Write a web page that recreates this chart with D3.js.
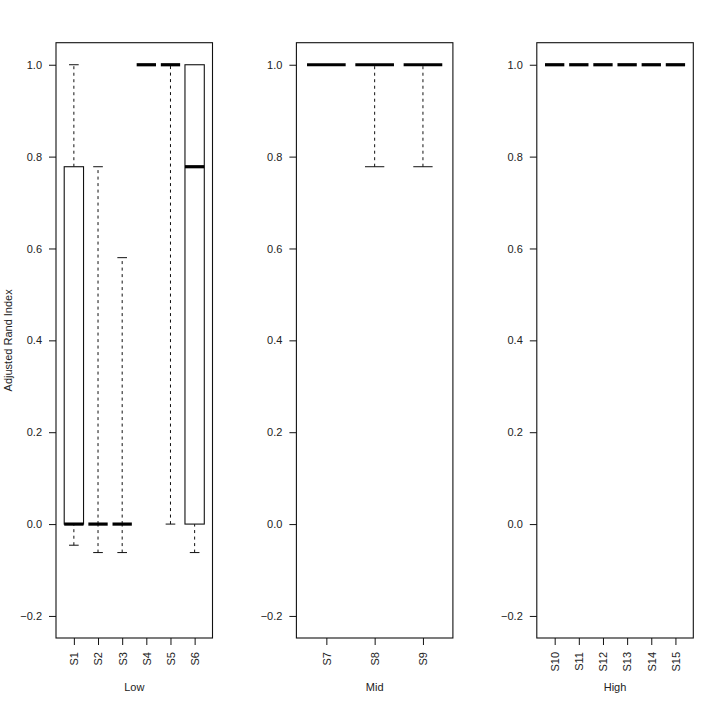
<!DOCTYPE html>
<html>
<head>
<meta charset="utf-8">
<script src="https://cdn.jsdelivr.net/npm/d3@7"></script>
<style>
	body { margin: 0; background: #fff; }
	svg { display: block; }
	text { font-family: "Liberation Sans", Arial, Helvetica, sans-serif; font-size: 11px; fill: #222; }
</style>
</head>
<body>
<script>
// groups and their sample names
var groupNames = [ 'Low', 'Mid', 'High' ];
var lowNames = [ 'S1', 'S2', 'S3', 'S4', 'S5', 'S6' ];
var midNames = [ 'S7', 'S8', 'S9' ];
var highNames = [ 'S10', 'S11', 'S12', 'S13', 'S14', 'S15' ];

// box stats: lower whisker, Q1, median, Q3, upper whisker
var lowStats = [
	[ -0.046, 0, 0, 0.778, 1 ],
	[ -0.062, 0, 0, 0, 0.778 ],
	[ -0.062, 0, 0, 0, 0.58 ],
	[ 1, 1, 1, 1, 1 ],
	[ 0, 1, 1, 1, 1 ],
	[ -0.062, 0, 0.778, 1, 1 ]
];
var midStats = [
	[ 1, 1, 1, 1, 1 ],
	[ 0.778, 1, 1, 1, 1 ],
	[ 0.778, 1, 1, 1, 1 ]
];
var highStats = [
	[ 1, 1, 1, 1, 1 ],
	[ 1, 1, 1, 1, 1 ],
	[ 1, 1, 1, 1, 1 ],
	[ 1, 1, 1, 1, 1 ],
	[ 1, 1, 1, 1, 1 ],
	[ 1, 1, 1, 1, 1 ]
];

var yTicks = [ -0.2, 0, 0.2, 0.4, 0.6, 0.8, 1.0 ];
var yLabel = 'Adjusted Rand Index';

var panels = [
	{ title: groupNames[0], names: lowNames, stats: lowStats },
	{ title: groupNames[1], names: midNames, stats: midStats },
	{ title: groupNames[2], names: highNames, stats: highStats }
];

var width = 709;
var height = 703;

var frame = {
	left: 56,
	step: 240.4,
	width: 156.5,
	top: 42.7,
	bottom: 638
};

var ink = '#111';

var svg = d3.select( 'body' ).append( 'svg' )
	.attr( 'width', width )
	.attr( 'height', height );

// R-style ylim(-0.2, 1) padded by 4%
var yPad = 1.2 * 0.04;
var yScale = d3.scaleLinear()
	.domain( [ -0.2 - yPad, 1 + yPad ] )
	.range( [ frame.bottom, frame.top ] );

panels.forEach( function ( panel, pi ) {

	var n = panel.names.length;
	var x0 = frame.left + pi * frame.step;
	var xPad = n * 0.04;

	var xScale = d3.scaleLinear()
		.domain( [ 0.5 - xPad, n + 0.5 + xPad ] )
		.range( [ x0, x0 + frame.width ] );

	var unit = xScale( 1 ) - xScale( 0 );
	var boxW = 0.8 * unit;
	var capW = 0.4 * unit;

	var g = svg.append( 'g' ).attr( 'class', 'panel' );

	// y axis
	var yAxis = d3.axisLeft( yScale )
		.tickValues( yTicks )
		.tickFormat( d3.format( '.1f' ) )
		.tickSize( 7 )
		.tickPadding( 7 );

	var ya = g.append( 'g' )
		.attr( 'transform', 'translate(' + x0 + ',0)' )
		.call( yAxis );
	ya.select( '.domain' ).remove();
	ya.selectAll( 'line' ).attr( 'stroke', ink );
	ya.selectAll( 'text' ).text( function ( d ) {
		return d3.format( '.1f' )( d ).replace( '-', '\u2212' );
	} ).attr( 'font-size', 11 ).attr( 'font-family', null ).attr( 'fill', '#222' );

	// x axis
	var xAxis = d3.axisBottom( xScale )
		.tickValues( d3.range( 1, n + 1 ) )
		.tickFormat( function ( d ) { return panel.names[ d - 1 ]; } )
		.tickSize( 7 )
		.tickPadding( 0 );

	var xa = g.append( 'g' )
		.attr( 'transform', 'translate(0,' + frame.bottom + ')' )
		.call( xAxis );
	xa.select( '.domain' ).remove();
	xa.selectAll( 'line' ).attr( 'stroke', ink );
	xa.selectAll( 'text' )
		.attr( 'font-size', 11 )
		.attr( 'font-family', null )
		.attr( 'fill', '#222' )
		.attr( 'transform', 'rotate(-90)' )
		.attr( 'text-anchor', 'end' )
		.attr( 'x', -14 )
		.attr( 'y', 0 )
		.attr( 'dy', '0.35em' );

	// frame
	g.append( 'rect' )
		.attr( 'x', x0 )
		.attr( 'y', frame.top )
		.attr( 'width', frame.width )
		.attr( 'height', frame.bottom - frame.top )
		.attr( 'fill', 'none' )
		.attr( 'stroke', ink )
		.attr( 'stroke-width', 1.1 );

	// boxes
	panel.stats.forEach( function ( s, i ) {
		var cx = xScale( i + 1 );
		var b = g.append( 'g' ).attr( 'class', 'box' );

		// whiskers
		[ [ s[0], s[1] ], [ s[3], s[4] ] ].forEach( function ( w ) {
			if ( w[0] === w[1] ) return;
			b.append( 'line' )
				.attr( 'x1', cx ).attr( 'x2', cx )
				.attr( 'y1', yScale( w[0] ) ).attr( 'y2', yScale( w[1] ) )
				.attr( 'stroke', ink )
				.attr( 'stroke-dasharray', '3,3.5' );
		} );

		// staples
		[ s[0], s[4] ].forEach( function ( v, k ) {
			var edge = k === 0 ? s[1] : s[3];
			if ( v === edge ) return;
			b.append( 'line' )
				.attr( 'x1', cx - capW / 2 ).attr( 'x2', cx + capW / 2 )
				.attr( 'y1', yScale( v ) ).attr( 'y2', yScale( v ) )
				.attr( 'stroke', ink );
		} );

		// box
		if ( s[3] > s[1] ) {
			b.append( 'rect' )
				.attr( 'x', cx - boxW / 2 )
				.attr( 'y', yScale( s[3] ) )
				.attr( 'width', boxW )
				.attr( 'height', yScale( s[1] ) - yScale( s[3] ) )
				.attr( 'fill', '#fff' )
				.attr( 'stroke', ink )
				.attr( 'stroke-width', 1.1 );
		}

		// median
		b.append( 'line' )
			.attr( 'x1', cx - boxW / 2 ).attr( 'x2', cx + boxW / 2 )
			.attr( 'y1', yScale( s[2] ) ).attr( 'y2', yScale( s[2] ) )
			.attr( 'stroke', '#000' )
			.attr( 'stroke-width', 3.2 );
	} );

	// group title under the axis
	g.append( 'text' )
		.attr( 'x', x0 + frame.width / 2 )
		.attr( 'y', 687 )
		.attr( 'dy', '0.35em' )
		.attr( 'text-anchor', 'middle' )
		.text( panel.title );

} );

svg.append( 'text' )
	.attr( 'transform', 'translate(8.5,' + ( ( frame.top + frame.bottom ) / 2 ) + ') rotate(-90)' )
	.attr( 'dy', '0.35em' )
	.attr( 'text-anchor', 'middle' )
	.text( yLabel );
</script>
</body>
</html>
